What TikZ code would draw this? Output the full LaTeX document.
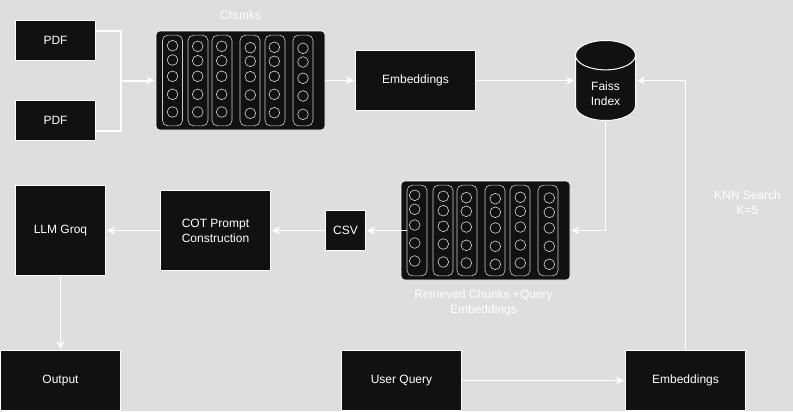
\documentclass[tikz,border=0pt]{standalone}
\usepackage{fontspec}
\setmainfont{Liberation Sans}
\usetikzlibrary{arrows.meta, shapes.geometric}
\definecolor{canvas}{HTML}{DEDEDE}
\definecolor{boxfill}{HTML}{111111}
\tikzset {
    block/.style 2 args = {
        draw = white,
        fill = boxfill,
        text = white,
        align = center,
        inner sep = 0pt,
        line width = 0.75pt,
        minimum width = #1,
        minimum height = #2,
        font = {\fontsize{9pt}{11.25pt}\selectfont}
    },
    panel/.style = {
        block = {126.75pt}{74.25pt},
        rounded corners = 3pt,
        line width = 0.4pt
    },
    chunkcol/.style = {
        draw = white!80!black,
        shape = rectangle,
        rounded corners = 4pt,
        inner sep = 0pt,
        line width = 0.45pt,
        minimum width = 15pt,
        minimum height = 68pt
    },
    chunkdot/.style = {
        draw = white!85!black,
        shape = circle,
        inner sep = 0pt,
        line width = 0.45pt,
        minimum size = 8pt
    },
    store/.style = {
        block = {45pt}{60pt},
        shape = cylinder,
        shape border rotate = 90,
        aspect = 1,
        anchor = shape center
    },
    caption/.style = {
        text = white,
        align = center,
        font = {\fontsize{9pt}{11.25pt}\selectfont}
    },
    every path/.style = {
        ->,
        >={Stealth[length=6pt, width=6pt, inset=2pt]},
        line width=0.75pt,
        draw=white
    }
}

\begin{document}
\begin{tikzpicture}[x=0.75pt, y=-0.75pt]
        \path [draw=none, fill=canvas] (0, 0) rectangle (793, 411);

        % Top row : two PDF, chunk panel, embeddings, index
        \node [block={60pt}{30pt}] at (55.5, 40.5)              (pdf1)      {PDF};
        \node [block={60pt}{30pt}] at (55.5, 120.5)             (pdf2)      {PDF};
        \coordinate (merge) at (121, 80.5);
        \node [panel] at (240.5, 80.5)                          (chunks)    {};
        \node [caption] at (240.5, 15)                          (chunkstxt) {Chunks};
        \node [block={90pt}{45pt}] at (415.5, 80.5)             (embed1)    {Embeddings};
        \node [store] at (605.5, 80.5)                          (faiss)     {\rule{0pt}{14.5pt}Faiss\\Index};
        \coordinate (faissin)  at (embed1.east -| faiss.west);
        \coordinate (faissout) at (embed1.east -| faiss.east);

        % Middle row : LLM, prompt, csv, retrieved panel
        \node [block={67.5pt}{67.5pt}] at (60.5, 230.5)         (llm)       {LLM Groq};
        \node [block={82.5pt}{60pt}] at (215.5, 230.5)          (prompt)    {COT Prompt\\Construction};
        \node [block={30pt}{30pt}] at (345.5, 230.5)            (csv)       {CSV};
        \node [panel] at (485.5, 230.5)                         (retrieved) {};
        \node [caption] at (483.5, 303)                         (rettxt)    {Retrieved Chunks +Query\\Embeddings};
        \node [caption] at (747.5, 203)                         (knn)       {KNN Search\\K=5};

        % Bottom row : output, query, embeddings
        \node [block={90pt}{45pt}] at (60.5, 380.5)             (output)    {Output};
        \node [block={90pt}{45pt}] at (401.5, 380.5)            (query)     {User Query};
        \node [block={90pt}{45pt}] at (685.5, 380.5)            (embed2)    {Embeddings};

        % Columns of the first panel
        \foreach \cname/\cx/\dx/\ylist in {
            a/172.5/172.5/{45.7,60,76.3,94.3,112},
            b/198/197.7/{46.3,60.7,76.3,94.3,112},
            c/222/221.7/{46.3,60.7,76.3,94.3,112},
            d/250/250.3/{47.7,61.3,76.7,95,113.3},
            e/275/274.3/{47.3,61.3,76.3,94.3,112.7},
            f/303/303/{48.3,62,78.3,96,114.3}} {
            \node [chunkcol] at (\cx, 80.5) (col\cname) {};
            \foreach \dy [count=\i] in \ylist
                \node [chunkdot] at (\dx, \dy) (dot\cname\i) {};
        }

        % Columns of the second panel
        \foreach \cname/\cx/\dx/\ylist in {
            a/417/414.7/{195.3,209.3,225,243,261},
            b/443/443.3/{196.3,210.7,226.3,244,262},
            c/467/466.3/{197.7,211.3,227,245.3,263},
            d/495/495.3/{198.7,212.3,228,246.3,264.3},
            e/520/520.3/{197.3,211.3,227,245,263},
            f/548/549.3/{198,212.3,228,246.3,264.3}} {
            \node [chunkcol] at (\cx, 230.5) (rcol\cname) {};
            \foreach \dy [count=\i] in \ylist
                \node [chunkdot] at (\dx, \dy) (rdot\cname\i) {};
        }

        \path [-, line width=1.5pt] ([yshift=7.5pt]pdf1.east) -| (merge);
        \path [-, line width=1.5pt] ([yshift=-7.5pt]pdf2.east) -| (merge);
        \path [line width=1.5pt, shorten >=1pt] (merge) -- (chunks.west);
        \path [shorten >=0.75pt]   (chunks.east)   --  (embed1.west);
        \path [shorten >=0.75pt]   (embed1.east)   --  (faissin);
        \path [shorten >=0.75pt]   (faiss.south)   |-  (retrieved.east);
        \path [shorten >=0.75pt]   (embed2.north)  |-  (faissout);
        \path [shorten >=0.75pt]   (rcola.west)    --  (csv.east);
        \path [shorten >=0.75pt]   (csv.west)      --  (prompt.east);
        \path [shorten >=0.75pt]   (prompt.west)   --  (llm.east);
        \path [shorten >=0.75pt]   (llm.south)     --  (output.north);
        \path [shorten >=0.75pt]   (query.east)    --  (embed2.west);
    \end{tikzpicture}
\end{document}
